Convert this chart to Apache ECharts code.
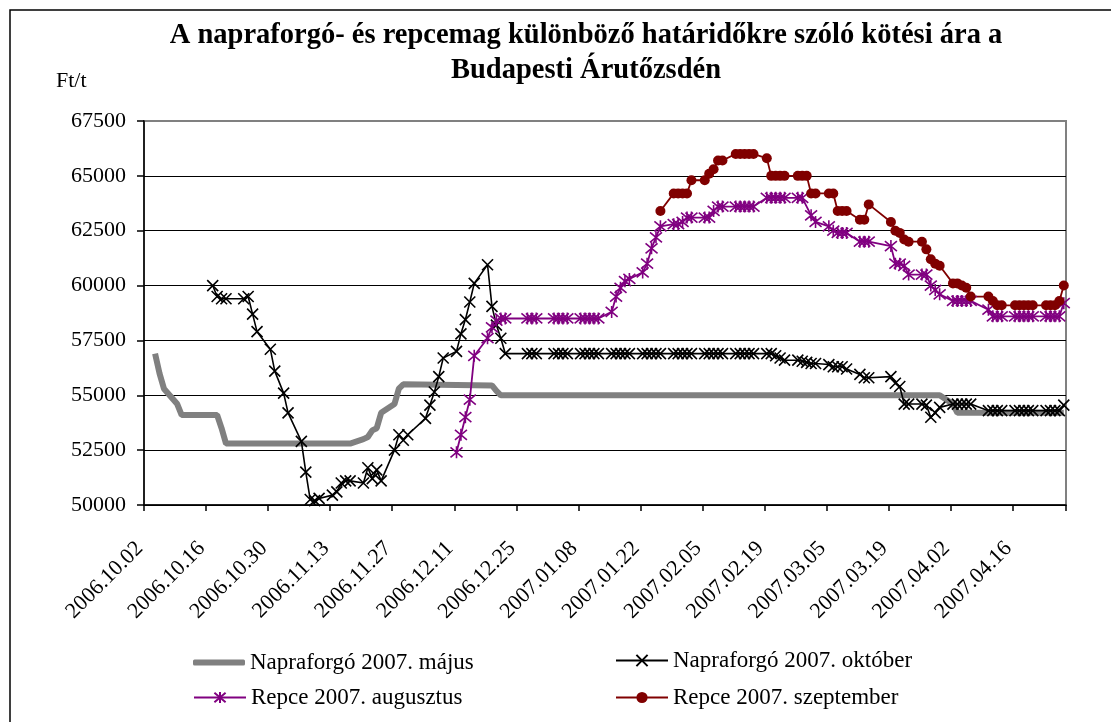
<!DOCTYPE html>
<html><head><meta charset="utf-8">
<script src="https://cdn.jsdelivr.net/npm/echarts@6/dist/echarts.min.js"></script>
<style>html,body{margin:0;padding:0;background:#fff}#c{width:1111px;height:722px}</style>
</head><body><div id="c"></div>
<script>
// ---------- data ----------
const titleLines = ['A napraforgó- és repcemag különböző határidőkre szóló kötési ára a', 'Budapesti Árutőzsdén'];
const unitLabel = 'Ft/t';
const seriesNames = ['Napraforgó 2007. május', 'Napraforgó 2007. október', 'Repce 2007. augusztus', 'Repce 2007. szeptember'];
const xTickLabels = ['2006.10.02','2006.10.16','2006.10.30','2006.11.13','2006.11.27','2006.12.11','2006.12.25','2007.01.08','2007.01.22','2007.02.05','2007.02.19','2007.03.05','2007.03.19','2007.04.02','2007.04.16'];
const yTicks = [50000, 52500, 55000, 57500, 60000, 62500, 65000, 67500];

// Napraforgó 2007. május (thick gray line; values where the price changes)
const majus = [
 ['10.04',56900],['10.05',56000],['10.06',55300],['10.09',54600],['10.10',54100],['10.18',54100],['10.19',53500],['10.20',52800],
 ['11.17',52800],['11.20',53000],['11.21',53100],['11.22',53400],['11.23',53500],['11.24',54200],['11.27',54600],['11.28',55300],['11.29',55500],
 ['12.19',55450],['12.20',55200],['12.21',55000],['03.30',55000],['04.02',54600],['04.03',54200],['04.27',54200]
];
// Napraforgó 2007. október
const oktober = [
 ['10.17',60000],['10.18',59500],['10.19',59400],['10.20',59400],
 ['10.24',59400],['10.25',59500],['10.26',58700],['10.27',57900],
 ['10.30',57100],['10.31',56100],['11.02',55100],['11.03',54200],
 ['11.06',52900],['11.07',51500],['11.08',50250],['11.09',50200],['11.10',50300],
 ['11.13',50450],['11.14',50600],['11.15',51000],['11.16',51100],['11.17',51100],
 ['11.20',51000],['11.21',51700],['11.22',51200],['11.23',51600],['11.24',51100],
 ['11.27',52500],['11.28',53200],['11.29',52950],['11.30',53200],
 ['12.04',53950],['12.05',54550],['12.06',55150],['12.07',55850],['12.08',56700],
 ['12.11',57000],['12.12',57800],['12.13',58450],['12.14',59250],['12.15',60100],
 ['12.18',60950],['12.19',59050],['12.20',58200],['12.21',57600],['12.22',56900],
 ['12.27',56900],['12.28',56900],['12.29',56900],
 ['01.02',56900],['01.03',56900],['01.04',56900],['01.05',56900],
 ['01.08',56900],['01.09',56900],['01.10',56900],['01.11',56900],['01.12',56900],
 ['01.15',56900],['01.16',56900],['01.17',56900],['01.18',56900],['01.19',56900],
 ['01.22',56900],['01.23',56900],['01.24',56900],['01.25',56900],['01.26',56900],
 ['01.29',56900],['01.30',56900],['01.31',56900],['02.01',56900],['02.02',56900],
 ['02.05',56900],['02.06',56900],['02.07',56900],['02.08',56900],['02.09',56900],
 ['02.12',56900],['02.13',56900],['02.14',56900],['02.15',56900],['02.16',56900],
 ['02.19',56900],['02.20',56900],['02.21',56800],['02.22',56700],['02.23',56600],
 ['02.26',56600],['02.27',56550],['02.28',56500],['03.01',56450],['03.02',56450],
 ['03.05',56400],['03.06',56300],['03.07',56300],['03.08',56300],['03.09',56200],
 ['03.12',55950],['03.13',55800],['03.14',55800],
 ['03.19',55850],['03.20',55550],['03.21',55400],['03.22',54600],['03.23',54600],
 ['03.26',54600],['03.27',54550],['03.28',54000],['03.29',54200],['03.30',54450],
 ['04.02',54600],['04.03',54600],['04.04',54600],['04.05',54600],['04.06',54600],
 ['04.10',54300],['04.11',54300],['04.12',54300],['04.13',54300],
 ['04.16',54300],['04.17',54300],['04.18',54300],['04.19',54300],['04.20',54300],
 ['04.23',54300],['04.24',54300],['04.25',54300],['04.26',54300],['04.27',54550]
];
// Repce 2007. augusztus
const augusztus = [
 ['12.11',52400],['12.12',53200],['12.13',54000],['12.14',54800],['12.15',56800],
 ['12.18',57600],['12.19',58100],['12.20',58400],['12.21',58500],['12.22',58500],
 ['12.27',58500],['12.28',58500],['12.29',58500],
 ['01.02',58500],['01.03',58500],['01.04',58500],['01.05',58500],
 ['01.08',58500],['01.09',58500],['01.10',58500],['01.11',58500],['01.12',58500],
 ['01.15',58800],['01.16',59500],['01.17',59900],['01.18',60200],['01.19',60300],
 ['01.22',60600],['01.23',61000],['01.24',61700],['01.25',62200],['01.26',62700],
 ['01.29',62800],['01.30',62800],['01.31',62900],['02.01',63100],['02.02',63100],
 ['02.05',63100],['02.06',63100],['02.07',63400],['02.08',63600],['02.09',63600],
 ['02.12',63600],['02.13',63600],['02.14',63600],['02.15',63600],['02.16',63600],
 ['02.19',64000],['02.20',64000],['02.21',64000],['02.22',64000],['02.23',64000],
 ['02.26',64000],['02.27',64000],['03.01',63200],['03.02',62900],
 ['03.05',62700],['03.06',62500],['03.07',62400],['03.08',62400],['03.09',62400],
 ['03.12',62000],['03.13',62000],['03.14',62000],
 ['03.19',61800],['03.20',61000],['03.21',61000],['03.22',60900],['03.23',60500],
 ['03.26',60500],['03.27',60500],['03.28',60000],['03.29',59800],['03.30',59600],
 ['04.02',59300],['04.03',59300],['04.04',59300],['04.05',59300],['04.06',59300],
 ['04.10',58900],['04.11',58600],['04.12',58600],['04.13',58600],
 ['04.16',58600],['04.17',58600],['04.18',58600],['04.19',58600],['04.20',58600],
 ['04.23',58600],['04.24',58600],['04.25',58600],['04.26',58600],['04.27',59200]
];
// Repce 2007. szeptember
const szeptember = [
 ['01.26',63400],
 ['01.29',64200],['01.30',64200],['01.31',64200],['02.01',64200],['02.02',64800],
 ['02.05',64800],['02.06',65100],['02.07',65300],['02.08',65700],['02.09',65700],
 ['02.12',66000],['02.13',66000],['02.14',66000],['02.15',66000],['02.16',66000],
 ['02.19',65800],['02.20',65000],['02.21',65000],['02.22',65000],['02.23',65000],
 ['02.26',65000],['02.27',65000],['02.28',65000],['03.01',64200],['03.02',64200],
 ['03.05',64200],['03.06',64200],['03.07',63400],['03.08',63400],['03.09',63400],
 ['03.12',63000],['03.13',63000],['03.14',63700],
 ['03.19',62900],['03.20',62500],['03.21',62400],['03.22',62100],['03.23',62000],
 ['03.26',62000],['03.27',61650],['03.28',61200],['03.29',61000],['03.30',60900],
 ['04.02',60100],['04.03',60100],['04.04',60000],['04.05',59900],['04.06',59500],
 ['04.10',59500],['04.11',59300],['04.12',59100],['04.13',59100],
 ['04.16',59100],['04.17',59100],['04.18',59100],['04.19',59100],['04.20',59100],
 ['04.23',59100],['04.24',59100],['04.25',59100],['04.26',59300],['04.27',60000]
];

// ---------- helpers ----------
const ORIGIN = Date.UTC(2006, 9, 2);
function dayPos(md) { // 'MM.DD' -> days since 2006.10.02, centred in its day slot
  const [m, d] = md.split('.').map(Number);
  const y = m >= 10 ? 2006 : 2007;
  return (Date.UTC(y, m - 1, d) - ORIGIN) / 864e5 + 0.5;
}
const toXY = arr => arr.map(([d, v]) => [dayPos(d), v]);

const FONT = '"Liberation Serif","Times New Roman",serif';
const X_SYM = 'path://M0,0L10,10M10,0L0,10';
const STAR_SYM = 'path://M0,0L10,10M10,0L0,10M5,-1L5,11';

const chart = echarts.init(document.getElementById('c'), null, {renderer: 'canvas'});
const legendText = {fontFamily: FONT, fontSize: 23, color: '#000'};
const legendBase = {itemWidth: 52, itemHeight: 14, itemGap: 0, selectedMode: false, textStyle: legendText};

chart.setOption({
  animation: false,
  backgroundColor: '#fff',
  textStyle: {fontFamily: FONT},
  grid: {left: 144, right: 45, top: 121, bottom: 217, show: true, borderColor: '#808080', borderWidth: 2, backgroundColor: 'transparent'},
  graphic: [
    {type: 'rect', shape: {x: 10, y: 10, width: 1300, height: 900}, style: {fill: 'none', stroke: '#000', lineWidth: 1.5}, silent: true},
    {type: 'text', style: {text: titleLines[0], x: 586, y: 36, textAlign: 'center', textVerticalAlign: 'middle', fontFamily: FONT, fontSize: 28.5, fontWeight: 'bold', fill: '#000'}},
    {type: 'text', style: {text: titleLines[1], x: 586, y: 71, textAlign: 'center', textVerticalAlign: 'middle', fontFamily: FONT, fontSize: 28.5, fontWeight: 'bold', fill: '#000'}},
    {type: 'text', style: {text: unitLabel, x: 56, y: 81, textVerticalAlign: 'middle', fontFamily: FONT, fontSize: 22, fill: '#000'}}
  ],
  legend: [
    Object.assign({}, legendBase, {data: [{name: seriesNames[0], icon: 'roundRect'}], left: 188, top: 646, itemHeight: 6}),
    Object.assign({}, legendBase, {data: [seriesNames[1]], left: 610, top: 644}),
    Object.assign({}, legendBase, {data: [seriesNames[2]], left: 188, top: 681}),
    Object.assign({}, legendBase, {data: [seriesNames[3]], left: 610, top: 681})
  ],
  xAxis: {
    type: 'value', min: 0, max: 208, interval: 14,
    axisLine: {lineStyle: {color: '#000', width: 1.5}},
    axisTick: {length: 6, lineStyle: {color: '#000', width: 1.5}},
    splitLine: {show: false},
    axisLabel: {rotate: 45, margin: 36, padding: [0, 6, 0, 0], fontFamily: FONT, fontSize: 22, color: '#000',
      formatter: v => { const i = Math.round(v / 14); return (Math.abs(v - i * 14) < 1e-6 && i < xTickLabels.length) ? xTickLabels[i] : ''; }}
  },
  yAxis: {
    type: 'value', min: yTicks[0], max: yTicks[yTicks.length - 1], interval: yTicks[1] - yTicks[0],
    axisLine: {show: true, lineStyle: {color: '#000', width: 1.5}},
    axisTick: {show: true, length: 7, lineStyle: {color: '#000', width: 1.5}},
    splitLine: {lineStyle: {color: ['#000','#000','#000','#000','#000','#000','#000','#808080'], width: 1}},
    axisLabel: {margin: 18, fontFamily: FONT, fontSize: 22, color: '#000', formatter: v => String(v)}
  },
  series: [
    {name: seriesNames[0], type: 'line', data: toXY(majus), symbol: 'none', color: '#808080',
      lineStyle: {color: '#808080', width: 6}},
    {name: seriesNames[1], type: 'line', data: toXY(oktober), symbol: X_SYM, symbolSize: 11, color: '#000',
      itemStyle: {color: '#000', borderColor: '#000', borderWidth: 1.6}, lineStyle: {color: '#000', width: 1.6}},
    {name: seriesNames[2], type: 'line', data: toXY(augusztus), symbol: STAR_SYM, symbolSize: 12, color: '#800080',
      itemStyle: {color: '#800080', borderColor: '#800080', borderWidth: 1.6}, lineStyle: {color: '#800080', width: 1.8}},
    {name: seriesNames[3], type: 'line', data: toXY(szeptember), symbol: 'circle', symbolSize: 10, color: '#800000',
      itemStyle: {color: '#800000', borderColor: '#800000', borderWidth: 0}, lineStyle: {color: '#800000', width: 1.8}}
  ]
});
</script>
</body></html>
